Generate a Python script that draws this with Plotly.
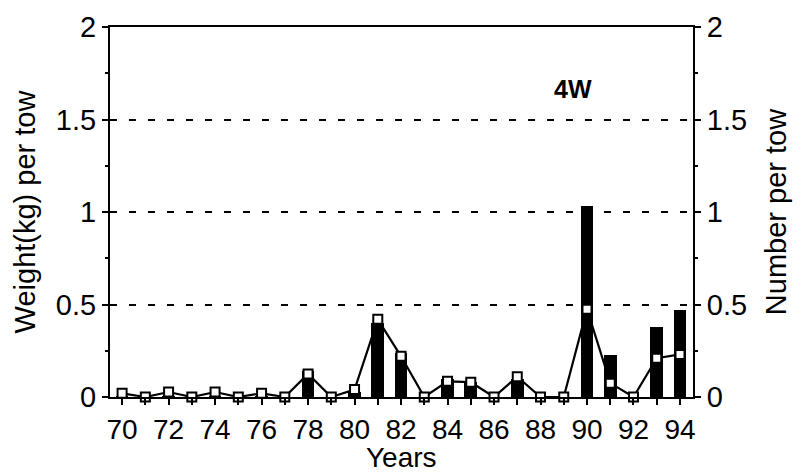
import plotly.graph_objects as go

years = list(range(70, 95))
weight = [0.005, 0, 0.005, 0, 0.005, 0, 0.005, 0, 0.14, 0, 0.025, 0.40, 0.24, 0, 0.095, 0.08, 0, 0.095, 0, 0, 1.03, 0.225, 0, 0.38, 0.47]
number = [0.02, 0, 0.027, 0, 0.027, 0, 0.02, 0, 0.125, 0, 0.04, 0.42, 0.22, 0, 0.085, 0.08, 0, 0.11, 0, 0, 0.475, 0.075, 0, 0.21, 0.23]
tick_text = [str(y) if y % 2 == 0 else "" for y in years]
y_ticks = [0, 0.5, 1, 1.5, 2]
y_tick_text = ["0", "0.5", "1", "1.5", "2"]

FONT = "Liberation Sans, Arial, sans-serif"
FS = 28

fig = go.Figure()
fig.add_trace(go.Bar(x=years, y=weight, width=0.55, marker=dict(color="black", line=dict(width=0)),
                     yaxis="y", showlegend=False))
fig.add_trace(go.Scatter(x=years, y=number, mode="lines+markers", yaxis="y2",
                         line=dict(color="black", width=2.2),
                         marker=dict(symbol="square", size=9, color="white", line=dict(color="black", width=2)),
                         showlegend=False, cliponaxis=False))

fig.update_layout(
    width=810, height=473,
    margin=dict(l=110, r=117, t=27, b=76),
    plot_bgcolor="white", paper_bgcolor="white",
    font=dict(family=FONT, size=FS, color="black"),
    bargap=0,
    xaxis=dict(range=[69.48, 94.56], tickvals=years, ticktext=tick_text,
               ticks="outside", ticklen=6, tickwidth=1.5, tickcolor="black",
               showline=True, linecolor="black", linewidth=2, mirror=True,
               showgrid=False, zeroline=False, automargin=False,
               tickfont=dict(size=FS)),
    yaxis=dict(range=[0, 2], tickvals=y_ticks, ticktext=y_tick_text,
               ticks="outside", ticklen=6, tickwidth=1.5, tickcolor="black",
               minor=dict(ticks="outside", tickvals=[0.25, 0.75, 1.25, 1.75], ticklen=3, tickcolor="black"),
               showline=True, linecolor="black", linewidth=2,
               showgrid=True, gridcolor="black", griddash="7px,12px", gridwidth=1.5,
               zeroline=False, automargin=False,
               title=dict(text="Weight(kg) per tow", font=dict(size=29), standoff=12),
               tickfont=dict(size=29)),
    yaxis2=dict(range=[0, 2], tickvals=y_ticks, ticktext=y_tick_text,
                overlaying="y", side="right",
                ticks="outside", ticklen=6, tickwidth=1.5, tickcolor="black",
                minor=dict(ticks="outside", tickvals=[0.25, 0.75, 1.25, 1.75], ticklen=3, tickcolor="black"),
                showline=True, linecolor="black", linewidth=2,
                showgrid=False, zeroline=False, automargin=False,
                title=dict(text="Number per tow", font=dict(size=29), standoff=20),
                tickfont=dict(size=29)),
    annotations=[
        dict(text="<b>4W</b>", x=0.83, y=0.876, xref="paper", yref="paper",
             showarrow=False, font=dict(size=25, family=FONT)),
        dict(text="Years", x=0.5, y=-0.163, xref="paper", yref="paper",
             xanchor="center", yanchor="middle", showarrow=False,
             font=dict(size=FS, family=FONT)),
    ],
)

fig.write_html("out.html")
